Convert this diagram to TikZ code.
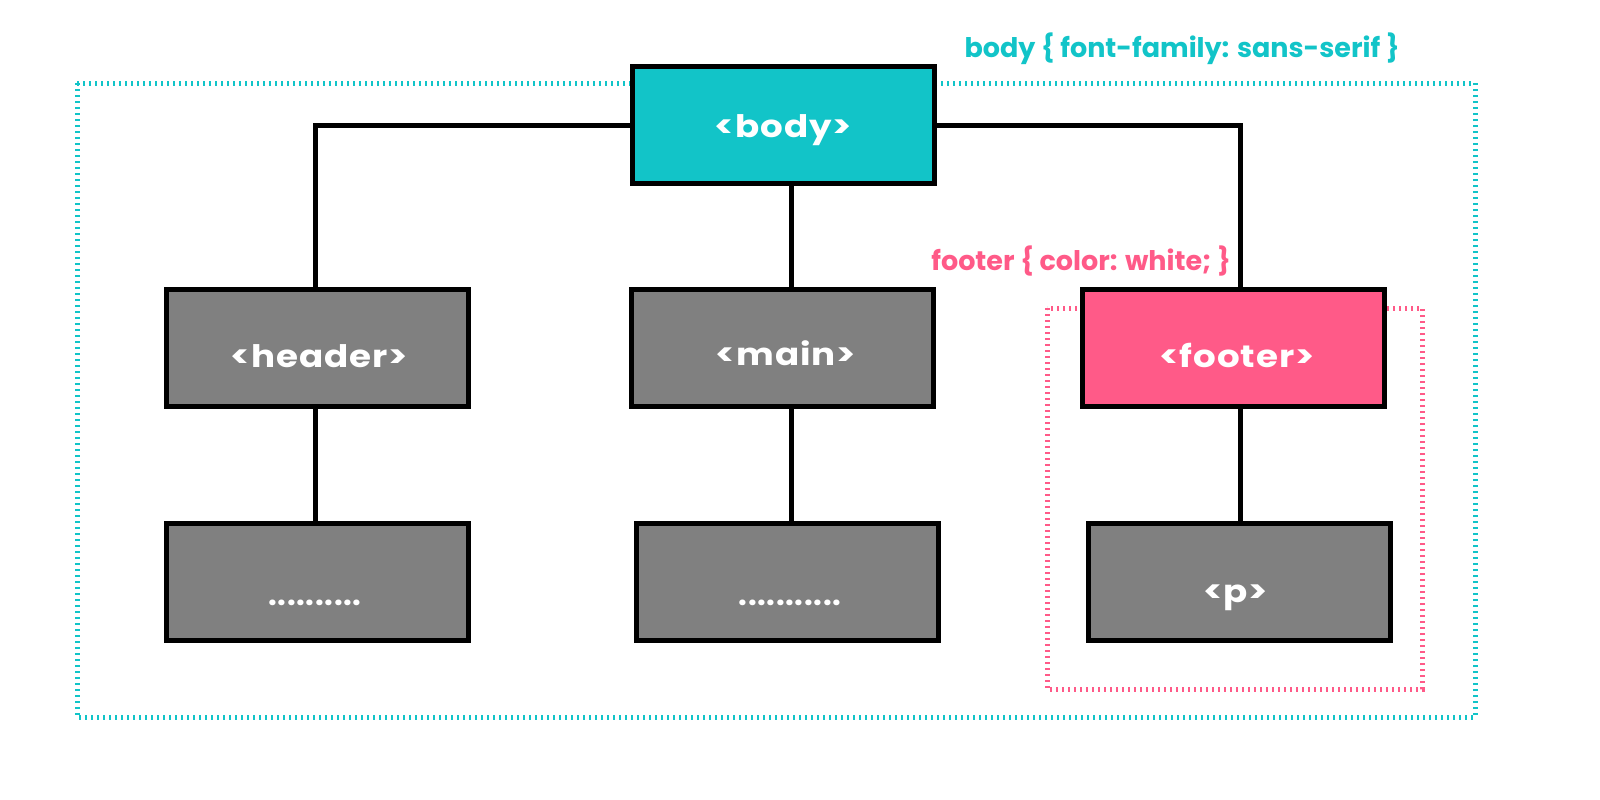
\documentclass[tikz,border=0pt]{standalone}
\usepackage{fontspec}
\setmainfont{Poppins}
\newfontfamily\nodefont[LetterSpace=3,FakeStretch=1.15]{Poppins}
\newfontfamily\dotfont[LetterSpace=2]{Poppins}
\newfontfamily\lblfont{Poppins}
\definecolor{cyanc}{HTML}{12C4C8}
\definecolor{pinkc}{HTML}{FF5A88}
\definecolor{grayc}{HTML}{808080}
\begin{document}
\begin{tikzpicture}[x=1pt,y=-1pt,
  box/.style={draw=black,line width=5pt,fill=grayc,minimum width=302pt,minimum height=117pt,inner sep=0pt,text depth=0pt,text=white,font=\nodefont\fontsize{31}{34}\selectfont\bfseries},
  conn/.style={draw=black,line width=5pt},
  frame/.style={line width=5pt,dash pattern=on 2pt off 4pt},
  lbl/.style={font=\lblfont\fontsize{27}{30}\selectfont\bfseries,inner sep=0pt}]
\useasboundingbox (0,0) rectangle (1600,800);
\draw[frame,cyanc] (77,83) rectangle (1475,717);
\draw[frame,pinkc] (1047,308) rectangle (1422,689);
\node[lbl,text=cyanc,anchor=base] (lbody) at (1182,58) {body \{ font-family: sans-serif \}};
\node[lbl,text=pinkc,anchor=base east] (lfooter) at (1231,270) {footer \{ color: white; \}};
\node[box,fill=cyanc,text height=24pt] (body) at (783.5,125) {<body>};
\node[box,text height=39pt] (header) at (317,347.5) {\hspace*{5pt}<header>};
\node[box,text height=35pt] (main) at (782.5,347.5) {\hspace*{7pt}<main>};
\node[box,fill=pinkc,text height=39pt] (footer) at (1233.5,347.5) {\hspace*{7pt}<footer>};
\node[box,text height=47pt] (d1) at (317,581.5) {\dotfont ..........\hspace*{4pt}};
\node[box,text height=47pt] (d2) at (787,581.5) {\dotfont\hspace*{6pt}...........};
\node[box,text height=41pt] (p) at (1239,581.5) {<p>\hspace*{7pt}};
\draw[conn] (body.west) -| (header.north -| 315,0);
\draw[conn] (body.east) -| (footer.north -| 1240,0);
\draw[conn] (body.south -| 791,0) -- (main.north -| 791,0);
\draw[conn] (header.south -| 315,0) -- (d1.north -| 315,0);
\draw[conn] (main.south -| 791,0) -- (d2.north -| 791,0);
\draw[conn] (footer.south -| 1240,0) -- (p.north -| 1240,0);
\end{tikzpicture}
\end{document}
